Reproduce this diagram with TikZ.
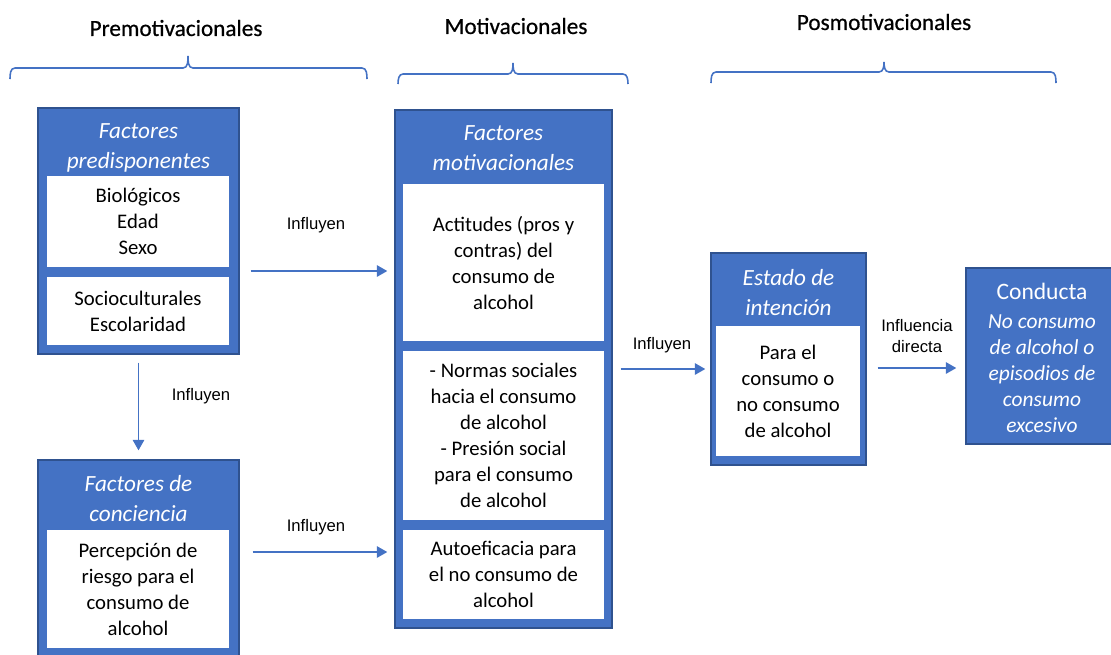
\documentclass[tikz,border=0pt]{standalone}
\usepackage{fontspec}
\setmainfont{Carlito}
\newfontfamily\lblfont{Liberation Sans}
\newfontfamily\phasefont[FakeBold=0.6]{Carlito}
\usetikzlibrary{arrows.meta}
\definecolor{boxblue}{HTML}{4472C4}
\definecolor{edgeblue}{HTML}{2F528F}
\tikzstyle{outer} = [rectangle, fill=boxblue, draw=edgeblue, line width=0.8pt, inner sep=0pt]
\tikzstyle{inner} = [rectangle, fill=white, inner sep=0pt, align=center, font=\fontsize{11.8}{14.8}\selectfont]
\tikzstyle{title} = [text=white, align=center, inner sep=0pt, font=\fontsize{13.2}{17}\selectfont\itshape]
\tikzstyle{phase} = [inner sep=0pt, font=\phasefont\fontsize{13.2}{15}\selectfont]
\tikzstyle{lbl} = [inner sep=0pt, align=center, font=\lblfont\fontsize{9.5}{12.5}\selectfont]
\tikzstyle{flow} = [draw=boxblue, line width=1.1pt, -{Triangle[length=6pt, width=6.5pt]}]
\tikzstyle{brace} = [draw=boxblue, line width=0.9pt]

\begin{document}
\begin{tikzpicture}[x=0.02cm, y=-0.02cm]
            \useasboundingbox (0,0) rectangle (1111,654);
            \clip (0,0) rectangle (1111,654);

            % Phases
            \node(premot) [phase] at (176,28) {Premotivacionales};
            \node(mot) [phase] at (516,26) {Motivacionales};
            \node(posmot) [phase] at (884,22) {Posmotivacionales};

            \draw[brace] (10,79) to[out=90,in=180] (15,68) -- (183,68) to[out=0,in=-90] (188,56)
                to[out=-90,in=180] (193,68) -- (362,68) to[out=0,in=90] (367,79);
            \draw[brace] (398,84) to[out=90,in=180] (403,74) -- (508,74) to[out=0,in=-90] (513,63)
                to[out=-90,in=180] (518,74) -- (623,74) to[out=0,in=90] (628,84);
            \draw[brace] (711,83) to[out=90,in=180] (716,72) -- (879,72) to[out=0,in=-90] (884,62)
                to[out=-90,in=180] (889,72) -- (1051,72) to[out=0,in=90] (1056,83);

            % Factores predisponentes
            \node(predisp) [outer, minimum width=4.02cm, minimum height=4.92cm] at (138.5,231) {};
            \node(predtit) [title] at (138.5,148) {Factores\\predisponentes};
            \node(biolog) [inner, minimum width=3.64cm, minimum height=1.82cm] at (138,221.5) {Biológicos\\Edad\\Sexo};
            \node(socio) [inner, minimum width=3.64cm, minimum height=1.36cm] at (138,311) {Socioculturales\\Escolaridad};

            % Factores de conciencia
            \node(concien) [outer, minimum width=4.02cm, minimum height=3.96cm] at (138.5,559) {};
            \node(conctit) [title] at (138.5,498.5) {Factores de\\conciencia};
            \node(percep) [inner, minimum width=3.64cm, minimum height=2.36cm] at (138,589) {Percepción de\\riesgo para el\\consumo de\\alcohol};

            % Factores motivacionales
            \node(motiv) [outer, minimum width=4.34cm, minimum height=10.36cm] at (503.5,369) {};
            \node(motivtit) [title] at (503.5,148) {Factores\\motivacionales};
            \node(actit) [inner, minimum width=4.02cm, minimum height=3.14cm] at (503.5,262.5) {Actitudes (pros y\\contras) del\\consumo de\\alcohol};
            \node(normas) [inner, minimum width=4.02cm, minimum height=3.38cm] at (503.5,435.5) {- Normas sociales\\hacia el consumo\\de alcohol\\- Presión social\\para el consumo\\de alcohol};
            \node(autoef) [inner, minimum width=4.02cm, minimum height=1.78cm] at (503.5,574.5) {Autoeficacia para\\el no consumo de\\alcohol};

            % Estado de intencion
            \node(intencion) [outer, minimum width=3.1cm, minimum height=4.24cm] at (788.5,359) {};
            \node(intentit) [title] at (788.5,292.5) {Estado de\\intención};
            \node(paracons) [inner, minimum width=2.88cm, minimum height=2.6cm] at (788,391) {Para el\\consumo o\\no consumo\\de alcohol};

            % Conducta
            \node(conducta) [outer, minimum width=3.08cm, minimum height=3.52cm] at (1043,356) {};
            \node(condtit) [title, font=\fontsize{12.2}{14.8}\selectfont\itshape] at (1042,358) {\upshape\fontsize{13.4}{14.8}\selectfont Conducta\\[1.7pt]No consumo\\de alcohol o\\episodios de\\consumo\\excesivo};

            % Draw Lines
            \coordinate (a1) at ([yshift=-0.8cm]predisp.east);
            \coordinate (a3) at ([yshift=0.14cm]concien.east);
            \coordinate (a5) at ([yshift=-0.18cm]intencion.east);
            \draw[flow, shorten <=0.22cm, shorten >=0.14cm] (a1) -- (a1 -| motiv.west);
            \draw[flow, shorten <=0.16cm, shorten >=0.18cm] (predisp.south) -- (concien.north);
            \draw[flow, shorten <=0.26cm, shorten >=0.14cm] (a3) -- (a3 -| motiv.west);
            \draw[flow, shorten <=0.16cm, shorten >=0.1cm] (motiv.east) -- (motiv.east -| intencion.west);
            \draw[flow, shorten <=0.22cm, shorten >=0.18cm] (a5) -- (a5 -| conducta.west);

            % Draw Labels
            \node(inf1) [lbl] at (316,225) {Influyen};
            \node(inf2) [lbl] at (201,396) {Influyen};
            \node(inf3) [lbl] at (316,527) {Influyen};
            \node(inf4) [lbl] at (662,345) {Influyen};
            \node(inf5) [lbl] at (917,336) {Influencia\\directa};
\end{tikzpicture}
\end{document}
